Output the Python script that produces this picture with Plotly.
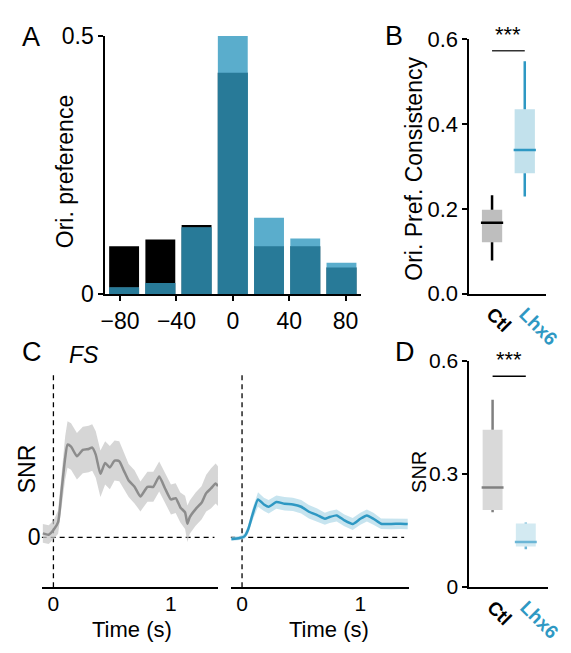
import plotly.graph_objects as go
import numpy as np

W, H = 571, 653
FONT = "Liberation Sans, Arial, sans-serif"

# ---------------- Data ----------------
# Panel A: orientation preference histogram (fraction of cells per bin)
ori_bins = [-77.1, -51.4, -25.7, 0.0, 25.7, 51.4, 77.1]
ori_ctl = [0.093, 0.106, 0.134, 0.428, 0.093, 0.093, 0.052]
ori_lhx6 = [0.013, 0.022, 0.129, 0.499, 0.148, 0.108, 0.061]

# Panel B: orientation preference consistency (box stats)
groups = ["Ctl", "Lhx6"]
b_low = [0.078, 0.229]
b_q1 = [0.121, 0.284]
b_med = [0.167, 0.339]
b_q3 = [0.198, 0.435]
b_high = [0.232, 0.548]

# Panel C: SNR time courses (FS cells)
t_ctl = [-0.09, -0.04, 0.0, 0.04, 0.07, 0.10, 0.12, 0.15, 0.20, 0.25, 0.30, 0.33, 0.36, 0.40,
         0.44, 0.48, 0.52, 0.56, 0.60, 0.64, 0.69, 0.74, 0.80, 0.85, 0.90, 0.95, 1.00, 1.04,
         1.08, 1.12, 1.14, 1.16, 1.21, 1.26, 1.30, 1.34, 1.38, 1.40]
snr_ctl = [0.012, 0.008, 0.022, 0.046, 0.143, 0.239, 0.279, 0.273, 0.244, 0.263, 0.266, 0.270,
           0.249, 0.191, 0.224, 0.210, 0.231, 0.229, 0.200, 0.171, 0.152, 0.123, 0.152, 0.152,
           0.183, 0.147, 0.114, 0.118, 0.090, 0.075, 0.041, 0.061, 0.085, 0.104, 0.133, 0.147,
           0.162, 0.154]
se_ctl = [0.028, 0.028, 0.028, 0.035, 0.05, 0.065, 0.07, 0.07, 0.07, 0.07, 0.07, 0.07, 0.07,
          0.07, 0.065, 0.065, 0.06, 0.06, 0.055, 0.05, 0.05, 0.045, 0.045, 0.045, 0.045, 0.045,
          0.045, 0.045, 0.045, 0.05, 0.055, 0.05, 0.05, 0.05, 0.055, 0.06, 0.06, 0.06]

t_lhx6 = [-0.09, -0.02, 0.02, 0.05, 0.09, 0.135, 0.185, 0.225, 0.29, 0.36, 0.43, 0.50, 0.565,
          0.635, 0.70, 0.74, 0.80, 0.865, 0.935, 1.0, 1.055, 1.11, 1.175, 1.26, 1.34, 1.40]
snr_lhx6 = [-0.005, -0.002, 0.003, 0.022, 0.070, 0.114, 0.099, 0.092, 0.106, 0.101, 0.099,
            0.092, 0.077, 0.067, 0.056, 0.061, 0.066, 0.051, 0.040, 0.056, 0.066, 0.056,
            0.041, 0.040, 0.041, 0.040]
se_lhx6 = [0.006, 0.006, 0.008, 0.012, 0.018, 0.022, 0.02, 0.02, 0.02, 0.02, 0.02, 0.02, 0.02,
           0.02, 0.018, 0.018, 0.018, 0.018, 0.018, 0.018, 0.018, 0.018, 0.016, 0.016, 0.016,
           0.016]

# Panel D: SNR box stats
d_low = [0.198, 0.100]
d_q1 = [0.204, 0.107]
d_med = [0.264, 0.119]
d_q3 = [0.417, 0.168]
d_high = [0.497, 0.171]

# ---------------- Helpers ----------------
def px(x):
    return x / W

def py(y):
    return 1 - y / H

fig = go.Figure()

# Panel A bars: ctl (black), Lhx6 (light blue), overlap (dark teal)
fig.add_trace(go.Bar(x=ori_bins, y=ori_ctl, width=21.2, marker=dict(color="#000000", line=dict(width=0)),
                     xaxis="x", yaxis="y", showlegend=False))
fig.add_trace(go.Bar(x=ori_bins, y=ori_lhx6, width=21.2, marker=dict(color="#5AADCC", line=dict(width=0)),
                     xaxis="x", yaxis="y", showlegend=False))
fig.add_trace(go.Bar(x=ori_bins, y=list(np.minimum(ori_ctl, ori_lhx6)), width=21.2,
                     marker=dict(color="#287A98", line=dict(width=0)),
                     xaxis="x", yaxis="y", showlegend=False))

def add_boxes(xa, ya, low, q1, med, q3, high, fills, lines, width, lw_w, lw_m):
    xs = list(range(len(low)))
    fig.add_trace(go.Bar(x=xs, y=[b - a for a, b in zip(q1, q3)], base=q1, width=width,
                         marker=dict(color=fills, line=dict(width=0)),
                         xaxis=xa, yaxis=ya, showlegend=False))
    for i in xs:
        fig.add_trace(go.Scatter(x=[i, i, None, i, i], y=[q3[i], high[i], None, q1[i], low[i]],
                                 mode="lines", line=dict(color=lines[i], width=lw_w),
                                 xaxis=xa, yaxis=ya, showlegend=False, hoverinfo="skip"))
        fig.add_trace(go.Scatter(x=[i - width / 2 - 0.03, i + width / 2 + 0.03], y=[med[i], med[i]],
                                 mode="lines", line=dict(color=lines[i], width=lw_m),
                                 xaxis=xa, yaxis=ya, showlegend=False, hoverinfo="skip"))

add_boxes("x2", "y2", b_low, b_q1, b_med, b_q3, b_high,
          ["#BEBEBE", "#C2E1EC"], ["#000000", "#2E98C3"], 0.62, 2.5, 2.5)

def add_trace_band(xa, ya, t, m, se, line_c, band_c):
    up = [a + b for a, b in zip(m, se)]
    lo = [a - b for a, b in zip(m, se)]
    fig.add_trace(go.Scatter(x=t + t[::-1], y=up + lo[::-1], fill="toself", fillcolor=band_c,
                             line=dict(width=0), mode="lines", xaxis=xa, yaxis=ya,
                             showlegend=False, hoverinfo="skip"))
    fig.add_trace(go.Scatter(x=t, y=m, mode="lines", line=dict(color=line_c, width=2.5, shape="spline", smoothing=0.5),
                             xaxis=xa, yaxis=ya, showlegend=False))

add_trace_band("x3", "y3", t_ctl, snr_ctl, se_ctl, "#8C8C8C", "rgba(200,200,200,0.75)")
add_trace_band("x4", "y4", t_lhx6, snr_lhx6, se_lhx6, "#2E98C3", "rgba(180,219,234,0.75)")

add_boxes("x5", "y5", d_low, d_q1, d_med, d_q3, d_high,
          ["#D9D9D9", "#D3EAF2"], ["#808080", "#6CB6D6"], 0.6, 2.5, 2.5)

tickfont = dict(family=FONT, size=23, color="#000")
axis_common = dict(showgrid=False, zeroline=False, linecolor="#000", ticks="outside",
                   tickcolor="#000", fixedrange=True)
cat_ticks = ["<b>Ctl</b>", "<b><span style='color:#2E98C3'>Lhx6</span></b>"]
cat_axis = dict(tickvals=[0, 1], ticktext=cat_ticks, tickangle=45, showline=True, linewidth=1.5,
                ticklabeloverflow="allow", tickfont=dict(family=FONT, size=19, color="#000"),
                showgrid=False, zeroline=False, linecolor="#000", ticks="", fixedrange=True)
time_axis = dict(tickvals=[0, 1], showline=True, linewidth=1.5, ticks="", ticklabelstandoff=-3,
                 tickfont=dict(family=FONT, size=21, color="#000"),
                 showgrid=False, zeroline=False, linecolor="#000", fixedrange=True)

layout = dict(
    width=W, height=H, margin=dict(l=0, r=0, t=0, b=0),
    paper_bgcolor="white", plot_bgcolor="white", barmode="overlay", showlegend=False,
    font=dict(family=FONT, color="#000"),
    xaxis=dict(domain=[px(104), px(369)], range=[-90.4, 91], tickvals=[-80, -40, 0, 40, 80],
               showline=True, linewidth=2, ticklen=5, tickwidth=1.5, tickfont=tickfont,
               anchor="y", **axis_common),
    yaxis=dict(domain=[py(293), py(23.5)], range=[0, 0.5], tickvals=[0, 0.5], ticktext=["0", "0.5"],
               showline=True, linewidth=2, ticklen=5, tickwidth=1.5, tickfont=tickfont,
               anchor="x", **axis_common),
    xaxis2=dict(domain=[px(481), px(561)], range=[-0.7, 1.66], anchor="y2", **cat_axis),
    yaxis2=dict(domain=[py(292.3), py(27.3)], range=[0, 0.6], tickvals=[0, 0.2, 0.4, 0.6],
                ticktext=["0.0", "0.2", "0.4", "0.6"], showline=True, linewidth=1.5, ticklen=5,
                tickwidth=1.5, tickfont=dict(family=FONT, size=22, color="#000"), anchor="x2",
                **axis_common),
    xaxis3=dict(domain=[px(38), px(220.7)], range=[-0.1, 1.4], anchor="y3", **time_axis),
    yaxis3=dict(domain=[py(598), py(373)], range=[-0.15, 0.5], tickvals=[0], ticktext=["0"],
                showline=False, ticks="", tickfont=tickfont, anchor="x3",
                showgrid=False, zeroline=False, fixedrange=True),
    xaxis4=dict(domain=[px(234), px(418.3)], range=[-0.095, 1.408], anchor="y4", **time_axis),
    yaxis4=dict(domain=[py(598), py(373)], range=[-0.15, 0.5], showticklabels=False,
                showline=False, ticks="", anchor="x4",
                showgrid=False, zeroline=False, fixedrange=True),
    xaxis5=dict(domain=[px(481), px(563)], range=[-0.706, 1.677], anchor="y5", **cat_axis),
    yaxis5=dict(domain=[py(597.7), py(362.3)], range=[0, 0.6], tickvals=[0, 0.3, 0.6],
                ticktext=["0", "0.3", "0.6"], showline=True, linewidth=1.5, ticklen=5,
                tickwidth=1.5, tickfont=dict(family=FONT, size=21, color="#000"), anchor="x5",
                **axis_common),
)
fig.update_layout(**layout)

dash = "5px,4px"
for xr, yr in [("x3", "y3"), ("x4", "y4")]:
    fig.add_shape(type="line", xref=xr, yref=yr, x0=0, x1=0, y0=-0.15, y1=0.5,
                  line=dict(color="#000", width=1.3, dash=dash), layer="below")
    fig.add_shape(type="line", xref=xr, yref=yr, x0=-0.1, x1=1.37, y0=0, y1=0,
                  line=dict(color="#000", width=1.3, dash=dash), layer="below")

fig.add_shape(type="line", xref="x2", yref="y2", x0=0, x1=1, y0=0.573, y1=0.573,
              line=dict(color="#333", width=1.5))
fig.add_shape(type="line", xref="x5", yref="y5", x0=0, x1=1, y0=0.559, y1=0.559,
              line=dict(color="#000", width=1.5))

ann = []
def A(text, x, y, size, angle=0, xanchor="center", yanchor="middle", **kw):
    ann.append(dict(text=text, x=px(x), y=py(y), xref="paper", yref="paper", showarrow=False,
                    font=dict(family=FONT, size=size, color="#000"), textangle=angle,
                    xanchor=xanchor, yanchor=yanchor, **kw))

A("A", 27, 25, 27)
A("B", 403, 24, 27)
A("C", 28, 353, 27)
A("<i>FS</i>", 82, 356, 23)
A("D", 415, 353, 27)
A("Ori. preference", 63, 165, 23, angle=-90)
A("Ori. Pref. Consistency", 423, 162, 23, angle=-90)
A("SNR", 23, 475, 23, angle=-90)
A("SNR", 429, 478, 20, angle=-90)
A("Time (s)", 132, 642, 22)
A("Time (s)", 336, 642, 22)
ann.append(dict(text="***", x=0.5, y=0.578, xref="x2", yref="y2", showarrow=False,
                font=dict(family=FONT, size=22, color="#000"), yanchor="bottom"))
ann.append(dict(text="***", x=0.5, y=0.564, xref="x5", yref="y5", showarrow=False,
                font=dict(family=FONT, size=22, color="#000"), yanchor="bottom"))
fig.update_layout(annotations=ann)

fig.write_html("out.html", config={"displayModeBar": False},
               post_script="document.body.style.margin='0';document.body.style.padding='0';"
                           "document.body.style.overflow='hidden';")
